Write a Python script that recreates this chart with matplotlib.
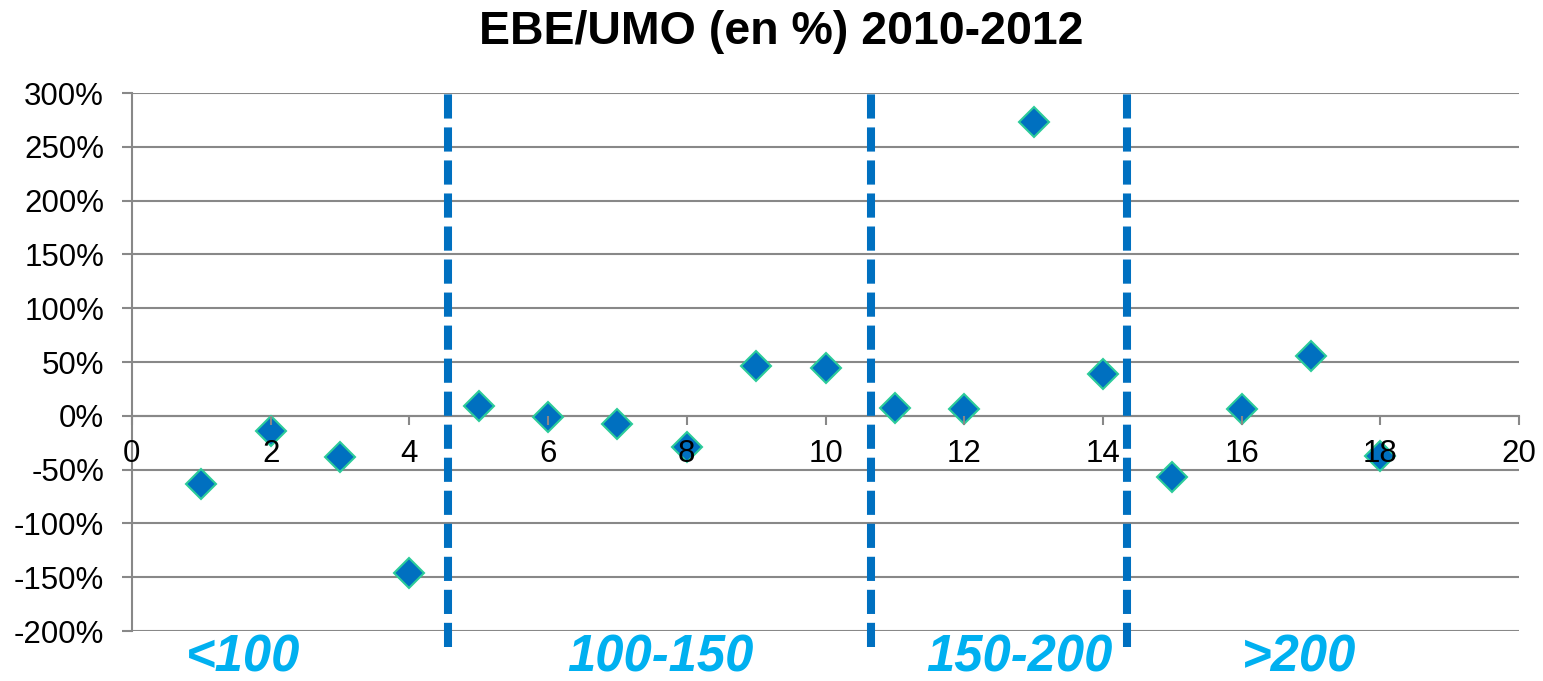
import matplotlib.pyplot as plt
from matplotlib.ticker import FuncFormatter

plt.rcParams["font.family"] = ["Liberation Sans", "DejaVu Sans"]

# données
x = list(range(1, 19))
ebe_umo = [-63, -14, -38, -146, 9, -1, -8, -29, 46, 44,
           7, 6, 273, 39, -57, 6, 56, -37]  # en %
separations = [4.55, 10.65, 14.34]
tranches = ["<100", "100-150", "150-200", ">200"]
tranche_x = [1.6, 7.62, 12.8, 16.83]
yticks = list(range(-200, 301, 50))
xticks = list(range(0, 21, 2))

fig = plt.figure(figsize=(15.43, 6.81), dpi=100)
ax = fig.add_axes([0.0855, 0.0734, 0.899, 0.79])
ax.set_axisbelow(False)  # libellés des graduations au-dessus des points

# grille horizontale (sous les points)
for t in yticks:
    ax.axhline(t, color="#888888", lw=1.5, zorder=0.5)

ax.plot(x, ebe_umo, linestyle="none", marker="D", markersize=15.5,
        markerfacecolor="#0070C0", markeredgecolor="#2CCB9A",
        markeredgewidth=1.5, zorder=2)

# séparations des tranches
for s in separations:
    ax.axvline(s, ymin=-0.03, ymax=1.009, color="#0070C0", lw=5.8,
               dashes=(3, 1.1), clip_on=False, zorder=3)

for lab, tx in zip(tranches, tranche_x):
    ax.text(tx, -0.05, lab, transform=ax.get_xaxis_transform(),
            ha="center", va="center", fontsize=36.5, fontweight="bold",
            fontstyle="italic", color="#00B0F0")

ax.set_xlim(0, 20)
ax.set_ylim(-200, 300)
ax.set_xticks(xticks)
ax.set_yticks(yticks)
ax.yaxis.set_major_formatter(FuncFormatter(lambda v, p: f"{int(v)}%"))

ax.spines["top"].set_visible(False)
ax.spines["right"].set_visible(False)
ax.spines["bottom"].set_position(("data", 0))
for sp in ["left", "bottom"]:
    ax.spines[sp].set_color("#888888")
    ax.spines[sp].set_linewidth(1.5)
    ax.spines[sp].set_zorder(1)

ax.tick_params(axis="y", direction="out", length=7, width=1.5,
               color="#888888", labelsize=22.5, pad=13)
ax.tick_params(axis="x", direction="out", length=6.5, width=1.5,
               color="#888888", labelsize=22.5, pad=10)

fig.suptitle("EBE/UMO (en %) 2010-2012", fontsize=33.5, fontweight="bold",
             x=0.506, y=0.985, va="top")

fig.savefig("out.png", dpi=100)
